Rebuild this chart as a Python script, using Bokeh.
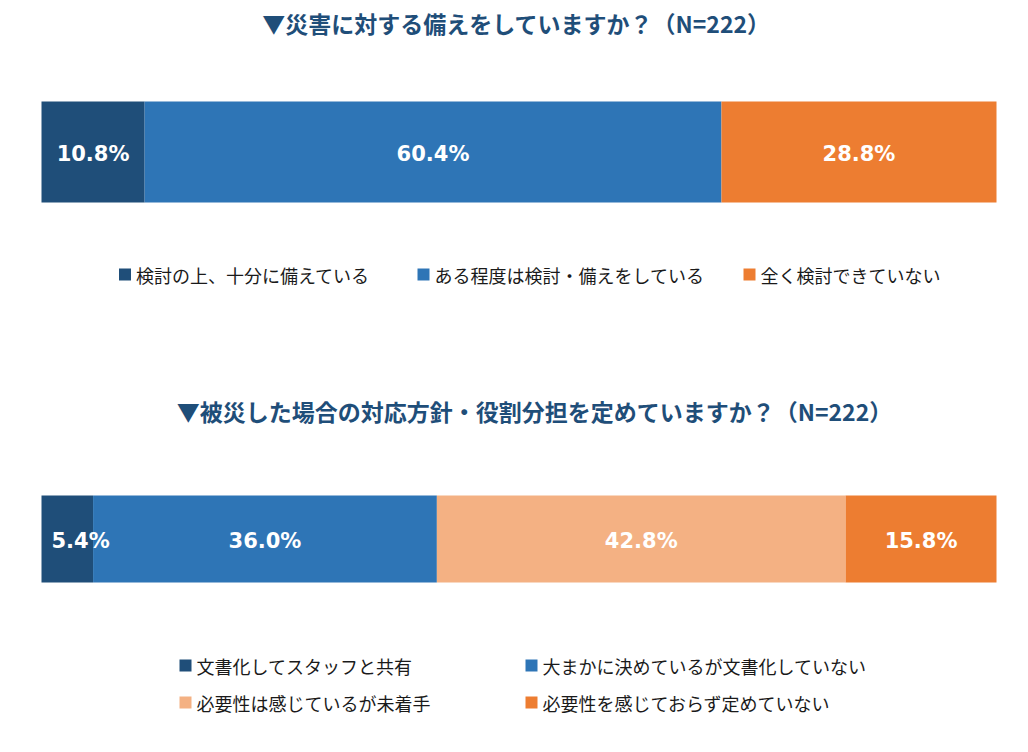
from bokeh.plotting import figure
from bokeh.models import Range1d, ColumnDataSource
from bokeh.core.properties import value
from bokeh.embed import file_html
from bokeh.resources import INLINE

# question 1
q1_title = "▼災害に対する備えをしていますか？（N=222）"
q1_labels = ["検討の上、十分に備えている", "ある程度は検討・備えをしている", "全く検討できていない"]
q1_values = [10.8, 60.4, 28.8]
q1_colors = ["#1F4E79", "#2E75B6", "#ED7D31"]

# question 2
q2_title = "▼被災した場合の対応方針・役割分担を定めていますか？（N=222）"
q2_labels = ["文書化してスタッフと共有", "大まかに決めているが文書化していない",
             "必要性は感じているが未着手", "必要性を感じておらず定めていない"]
q2_values = [5.4, 36.0, 42.8, 15.8]
q2_colors = ["#1F4E79", "#2E75B6", "#F4B183", "#ED7D31"]

W, H = 1012, 736
X0, XW = 41, 955  # pixel where 0% sits, pixel width of 100%

p = figure(width=W, height=H, output_backend="svg", toolbar_location=None,
           x_range=Range1d(-X0 / XW * 100, (W - X0) / XW * 100),
           y_range=Range1d(H, 0), min_border=0, outline_line_color=None)
p.axis.visible = False
p.grid.visible = False


def px(x):
    # pixel -> data x
    return (x - X0) / XW * 100


JP = value("Noto Sans CJK JP")
NUM = value("DejaVu Sans")


def stacked_bar(vals, colors, yc, hgt, label_y):
    lefts, rights, s = [], [], 0.0
    for v in vals:
        lefts.append(s)
        s += v
        rights.append(s)
    src = ColumnDataSource(dict(l=lefts, r=rights, c=colors))
    p.hbar(y=yc, left="l", right="r", height=hgt, fill_color="c",
           line_color=None, source=src)
    xs, aligns, offs = [], [], []
    for l, r, v in zip(lefts, rights, vals):
        if v < 8:
            xs.append(l); aligns.append("left"); offs.append(10)
        else:
            xs.append((l + r) / 2); aligns.append("center"); offs.append(0)
    txt = ColumnDataSource(dict(x=xs, t=["%.1f%%" % v for v in vals], a=aligns, o=offs))
    p.text(x="x", y=label_y, text="t", text_align="a", x_offset="o",
           text_baseline="middle", text_color="white", text_font=NUM,
           text_font_style="bold", text_font_size="21px", source=txt)


def legend(labels, colors, xs, ys):
    p.scatter(x=[px(x) for x in xs], y=ys, marker="square", size=12,
              fill_color=colors, line_color=None)
    p.text(x=[px(x + 11) for x in xs], y=ys, text=labels, text_font=JP,
           text_font_size="18px", text_baseline="middle", text_color="#1a1a1a")


# titles
p.text(x=[px(516)], y=[22], text=[q1_title], text_align="center", text_baseline="middle",
       text_font=JP, text_font_style="bold", text_font_size="23px", text_color="#1F4E79")
p.text(x=[px(534)], y=[410], text=[q2_title], text_align="center", text_baseline="middle",
       text_font=JP, text_font_style="bold", text_font_size="23px", text_color="#1F4E79")

stacked_bar(q1_values, q1_colors, 151.5, 101, 153)
stacked_bar(q2_values, q2_colors, 538.5, 87, 540)

legend(q1_labels, q1_colors, [124.5, 423, 749], [274, 274, 274])
legend(q2_labels, q2_colors, [185, 531, 185, 531], [665, 665, 702, 702])

open("out.html", "w").write(file_html(p, INLINE))
